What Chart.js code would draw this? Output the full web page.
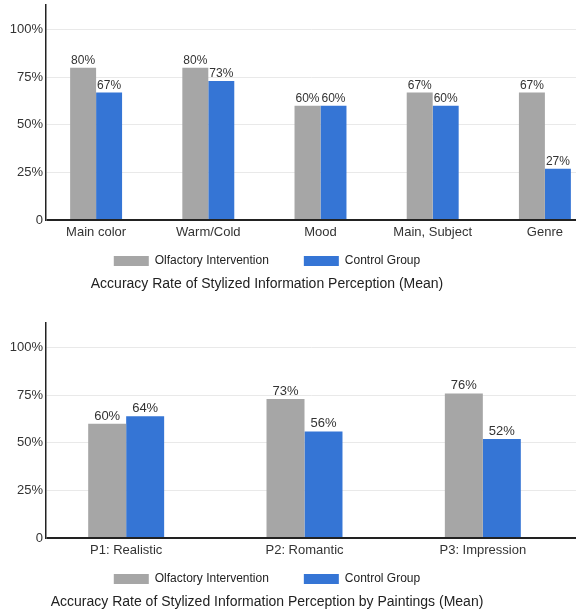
<!DOCTYPE html>
<html>
<head>
<meta charset="utf-8">
<script src="https://cdn.jsdelivr.net/npm/chart.js@4"></script>
<style>
  body { margin: 0; background: #fff; }
  .box { position: absolute; left: 0; width: 576px; height: 296px; }
</style>
</head>
<body>
<div class="box" style="top:0"><canvas id="chart1"></canvas></div>
<div class="box" style="top:318px"><canvas id="chart2"></canvas></div>
<script>
var seriesNames = ['Olfactory Intervention', 'Control Group']
var seriesColors = ['#a6a6a6', '#3575d5']
var yTickValues = [0, 25, 50, 75, 100]

// chart 1 - by aspect
var aspectLabels = ['Main color', 'Warm/Cold', 'Mood', 'Main, Subject', 'Genre']
var aspectOlfactory = [80, 80, 60, 67, 67]
var aspectControl = [67, 73, 60, 60, 27]
var aspectTitle = 'Accuracy Rate of Stylized Information Perception (Mean)'

// chart 2 - by painting
var paintingLabels = ['P1: Realistic', 'P2: Romantic', 'P3: Impression']
var paintingOlfactory = [60, 73, 76]
var paintingControl = [64, 56, 52]
var paintingTitle = 'Accuracy Rate of Stylized Information Perception by Paintings (Mean)'

Chart.defaults.font.family = "'Liberation Sans', Arial, sans-serif"

// value labels on top of the bars
var barValues = {
  id: 'barValues',
  afterDatasetsDraw(chart, args, opts) {
    let ctx = chart.ctx
    ctx.save()
    ctx.font = opts.size + "px 'Liberation Sans', Arial, sans-serif"
    ctx.fillStyle = '#333'
    ctx.textAlign = 'center'
    ctx.textBaseline = 'alphabetic'
    chart.data.datasets.forEach((ds, i) => {
      chart.getDatasetMeta(i).data.forEach((bar, j) => {
        ctx.fillText(ds.data[j] + '%', bar.x, bar.y - 4)
      })
    })
    ctx.restore()
  }
}

// the original spreads the categories a little wider than the plot area
var spreadX = {
  id: 'spreadX',
  afterLayout(chart, args, opts) {
    let x = chart.scales.x
    x.left = opts.left
    x.right = opts.right
    x.width = opts.right - opts.left
    x.configure()
  }
}

function makeChart(id, labels, olfactory, control, title, groupWidth, labelSize, xRange) {
  let ctx = document.getElementById(id).getContext('2d')
  return new Chart(ctx, {
    type: 'bar',
    data: {
      labels: labels,
      datasets: [{
        label: seriesNames[0],
        data: olfactory,
        backgroundColor: seriesColors[0],
        borderWidth: 0,
        barPercentage: 1,
        categoryPercentage: groupWidth
      },
      {
        label: seriesNames[1],
        data: control,
        backgroundColor: seriesColors[1],
        borderWidth: 0,
        barPercentage: 1,
        categoryPercentage: groupWidth
      }]
    },
    plugins: [barValues, spreadX],
    options: {
      responsive: true,
      maintainAspectRatio: false,
      animation: false,
      events: [],
      // negative left padding moves legend/title centre left of the canvas centre
      layout: { padding: { left: -42, top: 5, right: 0, bottom: 0 } },
      scales: {
        x: {
          // labels overhang into the legend's top padding (mirror skips the clip)
          afterFit: s => { s.height = 0 },
          grid: { display: false },
          border: { display: false },
          ticks: { mirror: true, padding: -20, color: '#333', font: { size: 13 }, autoSkip: false, maxRotation: 0 }
        },
        y: {
          min: 0,
          max: 113,
          afterBuildTicks: s => { s.ticks = yTickValues.map(v => ({ value: v })) },
          afterFit: s => { s.width = 88; s.paddingTop = 0; s.paddingBottom = 0 },
          border: { color: '#222', width: 1.5 },
          grid: {
            drawTicks: false,
            color: c => c.tick.value === 0 ? '#222' : '#e9e9e9',
            lineWidth: c => c.tick.value === 0 ? 2 : 1
          },
          ticks: {
            padding: 3,
            color: '#333',
            font: { size: 13 },
            callback: v => v === 0 ? '0' : v + '%'
          }
        }
      },
      plugins: {
        legend: {
          position: 'bottom',
          labels: { boxWidth: 35, boxHeight: 10, padding: 35, color: '#222', font: { size: 12 } }
        },
        title: {
          display: true,
          text: title,
          position: 'bottom',
          color: '#222',
          font: { size: 14, weight: 'normal', lineHeight: 1 },
          padding: { top: 0, bottom: 5 }
        },
        tooltip: { enabled: false },
        barValues: { size: labelSize },
        spreadX: xRange
      }
    }
  })
}

makeChart('chart1', aspectLabels, aspectOlfactory, aspectControl, aspectTitle, 0.463, 12, { left: 40, right: 601 })
makeChart('chart2', paintingLabels, paintingOlfactory, paintingControl, paintingTitle, 0.426, 13, { left: 37, right: 572 })
</script>
</body>
</html>
